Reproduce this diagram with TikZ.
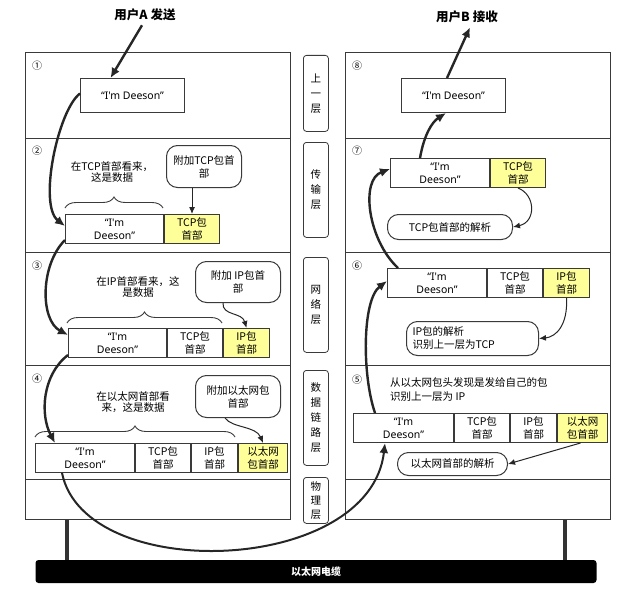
\documentclass[tikz,border=0pt]{standalone}
\usepackage{fontspec}
\setmainfont{Noto Sans CJK SC}
\newfontfamily\lat{Noto Sans}
\usetikzlibrary{arrows.meta,decorations.pathreplacing,calc}
\definecolor{hdr}{HTML}{FFFF99}
\definecolor{edge}{HTML}{3A3A3A}
\begin{document}
\begin{tikzpicture}[x=1pt,y=-1pt,
  layer/.style={draw=edge, line width=1.2pt, fill=white, minimum width=265pt, anchor=north west, inner sep=0pt},
  tag/.style={draw=edge, line width=0.8pt, rounded corners=3pt, minimum width=25pt, anchor=north west, align=center, font=\fontsize{10.5}{15}\selectfont, inner sep=0pt},
  num/.style={font=\fontsize{10}{10}\selectfont, inner sep=0pt},
  msg/.style={draw=edge, line width=1pt, fill=white, anchor=north west, minimum height=34pt, minimum width=104pt, font=\lat\fontsize{10.5}{13}\selectfont, inner sep=0pt},
  cell/.style={draw=edge, line width=1pt, fill=white, anchor=north west, minimum height=29pt, align=center, font=\fontsize{10.5}{13}\selectfont, inner sep=0pt},
  dcell/.style={cell, font=\lat\fontsize{10.5}{13}\selectfont},
  hcell/.style={cell, fill=hdr},
  call/.style={draw=edge, line width=1pt, rounded corners=11pt, fill=white, anchor=north west, align=center, inner sep=0pt, font=\fontsize{10.5}{13}\selectfont},
  note/.style={align=center, inner sep=0pt, font=\fontsize{10.5}{11.5}\selectfont},
  title/.style={inner sep=0pt, font=\fontsize{12.5}{14}\selectfont\bfseries},
  big/.style={line width=2.4pt, draw=black!85, -{Latex[length=10pt,width=9pt]}},
  small/.style={line width=1pt, draw=black!85, -{Latex[length=7pt,width=6pt]}},
  brc/.style={decorate, decoration={brace, amplitude=11pt}, line width=0.9pt, draw=edge},
  post/.style={line width=4pt, draw=black!80}
]
\useasboundingbox (0,0) rectangle (631,591);

% left stack
\node[layer, minimum height=86pt] (L1) at (25,52) {};
\node[layer, minimum height=114pt] (L2) at (25,138) {};
\node[layer, minimum height=113pt] (L3) at (25,252) {};
\node[layer, minimum height=114pt] (L4) at (25,365) {};
\node[layer, minimum height=40pt] (L5) at (25,479) {};
% right stack
\node[layer, minimum height=86pt] (R1) at (345,52) {};
\node[layer, minimum height=114pt] (R2) at (345,138) {};
\node[layer, minimum height=113pt] (R3) at (345,252) {};
\node[layer, minimum height=114pt] (R4) at (345,365) {};
\node[layer, minimum height=40pt] (R5) at (345,479) {};

% middle tags
\node[tag, minimum height=76pt] (M1) at (303,55) {上\\一\\层};
\node[tag, minimum height=95pt] (M2) at (303,142) {传\\输\\层};
\node[tag, minimum height=95pt] (M3) at (303,257) {网\\络\\层};
\node[tag, minimum height=95pt] (M4) at (303,370) {数\\据\\链\\路\\层};
\node[tag, minimum height=46pt, font=\fontsize{10.5}{14}\selectfont] (M5) at (303,477) {物\\理\\层};

% circled numbers
\node[num] (n1) at (37,66) {①};
\node[num] (n2) at (37,151) {②};
\node[num] (n3) at (37,266) {③};
\node[num] (n4) at (37,379) {④};
\node[num] (n8) at (357,66) {⑧};
\node[num] (n7) at (357,151) {⑦};
\node[num] (n6) at (357,266) {⑥};
\node[num] (n5) at (357,380) {⑤};

% cable and posts
\node[fill=black, rounded corners=3pt, minimum width=561pt, minimum height=23pt, inner sep=0pt,
      text=white, font=\fontsize{10}{12}\selectfont\bfseries] (cable) at (316,571.5) {以太网电缆};
\coordinate (pl) at (67,520);
\coordinate (pr) at (565,520);
\draw[post] (pl) -- (pl |- cable.north);
\draw[post] (pr) -- (pr |- cable.north);

% titles
\node[title] (tA) at (145,15) {用户A 发送};
\node[title] (tB) at (467,17) {用户B 接收};

% row 1 / row 8
\node[msg] (b1) at (80,78) {“I'm Deeson”};
\node[msg] (b8) at (401,78) {“I'm Deeson”};

% row 2
\node[note] (t2) at (112,172) {在TCP首部看来，\\这是数据};
\node[call, minimum width=75pt, minimum height=42pt] (c2) at (166,145) {附加TCP包首\\部};
\node[dcell, minimum width=98pt] (p2d) at (65,214) {“I'm\\Deeson”};
\node[hcell, minimum width=55pt] (p2t) at (p2d.north east) {TCP包\\首部};
\draw[brc] (65,208) -- (163,208);

% row 3
\node[note] (t3) at (138,287) {在IP首部看来，这\\是数据};
\node[call, minimum width=85pt, minimum height=41pt] (c3) at (195,261) {附加 IP包首\\部};
\node[dcell, minimum width=98pt] (p3d) at (68,328) {“I'm\\Deeson”};
\node[cell, minimum width=55pt] (p3t) at (p3d.north east) {TCP包\\首部};
\node[hcell, minimum width=46pt] (p3i) at (p3t.north east) {IP包\\首部};
\draw[brc] (67,323) -- (222,323);

% row 4
\node[note] (t4) at (133,402) {在以太网首部看\\来，这是数据};
\node[call, minimum width=85pt, minimum height=42pt] (c4) at (195,375) {附加以太网包\\首部};
\node[dcell, minimum width=99pt] (p4d) at (35,443) {“I'm\\Deeson”};
\node[cell, minimum width=55pt] (p4t) at (p4d.north east) {TCP包\\首部};
\node[cell, minimum width=46pt] (p4i) at (p4t.north east) {IP包\\首部};
\node[hcell, minimum width=49pt] (p4e) at (p4i.north east) {以太网\\包首部};
\draw[brc] (35,437) -- (235,437);

% row 7
\node[dcell, minimum width=99pt] (p7d) at (390,158) {“I'm\\Deeson”};
\node[hcell, minimum width=55pt] (p7t) at (p7d.north east) {TCP包\\首部};
\node[call, minimum width=125pt, minimum height=25pt] (c7) at (387,214) {TCP包首部的解析};

% row 6
\node[dcell, minimum width=99pt] (p6d) at (387,268) {“I'm\\Deeson”};
\node[cell, minimum width=55pt] (p6t) at (p6d.north east) {TCP包\\首部};
\node[hcell, minimum width=46pt] (p6i) at (p6t.north east) {IP包\\首部};
\node[call, minimum width=132pt, minimum height=34pt, text width=120pt, align=left, inner xsep=6pt] (c6) at (406,321) {IP包的解析\\识别上一层为TCP};

% row 5
\node[note, align=left, anchor=north west, font=\fontsize{10.5}{14}\selectfont] (t5) at (390,377) {从以太网包头发现是发给自己的包\\识别上一层为 IP};
\node[dcell, minimum width=100pt] (p5d) at (353,413) {“I'm\\Deeson”};
\node[cell, minimum width=55pt] (p5t) at (p5d.north east) {TCP包\\首部};
\node[cell, minimum width=46pt] (p5i) at (p5t.north east) {IP包\\首部};
\node[hcell, minimum width=50pt] (p5e) at (p5i.north east) {以太网\\包首部};
\node[call, minimum width=110pt, minimum height=23pt] (c5) at (397,452) {以太网首部的解析};

% thin arrows
\draw[small] (p2t.north |- c2.south) -- (p2t.north);
\draw[small] ($(c3.south)+(-15,0)$) .. controls (222,316) and (242,312) .. (p3i.north);
\draw[small] ($(c4.south)+(-13,0)$) .. controls (232,428) and (256,426) .. (p4e.north);
\draw[small] (p7t.south) .. controls (536,195) and (536,222) .. (c7.east);
\draw[small] (p6i.south) .. controls (568,325) and (556,337) .. (c6.east);
\draw[small] ($(p5e.south)+(-2,0)$) -- (c5.east);

% thick arrows, sender
\draw[big] ($(tA.south)+(-3,4)$) -- ($(b1.north)+(-22,0)$);
\draw[big] ($(b1.west)+(0,-2)$) .. controls (58,110) and (38,205) .. ($(p2d.west)+(0,-3)$);
\draw[big] ($(p2d.south west)+(0,-4)$) .. controls (40,265) and (40,320) .. ($(p3d.west)+(0,-8)$);
\draw[big] ($(p3d.south west)+(0,-3)$) .. controls (42,375) and (40,415) .. ($(p4d.north west)+(20,0)$);
\draw[big, line width=2pt] ($(p4d.south west)+(27,0)$) .. controls (85,585) and (370,575) .. ($(p5d.south west)+(32,0)$);
% thick arrows, receiver
\draw[big] ($(p5d.north west)+(22,0)$) .. controls (362,375) and (362,300) .. ($(p6d.west)+(0,-2)$);
\draw[big] ($(p6d.north west)+(11,0)$) .. controls (368,240) and (360,180) .. ($(p7d.west)+(0,-4)$);
\draw[big] ($(p7d.north west)+(30,0)$) .. controls (424,135) and (432,122) .. ($(b8.south west)+(45,0)$);
\draw[big] ($(b8.north west)+(46,0)$) -- ($(tB.south)+(3,4)$);
\end{tikzpicture}
\end{document}
